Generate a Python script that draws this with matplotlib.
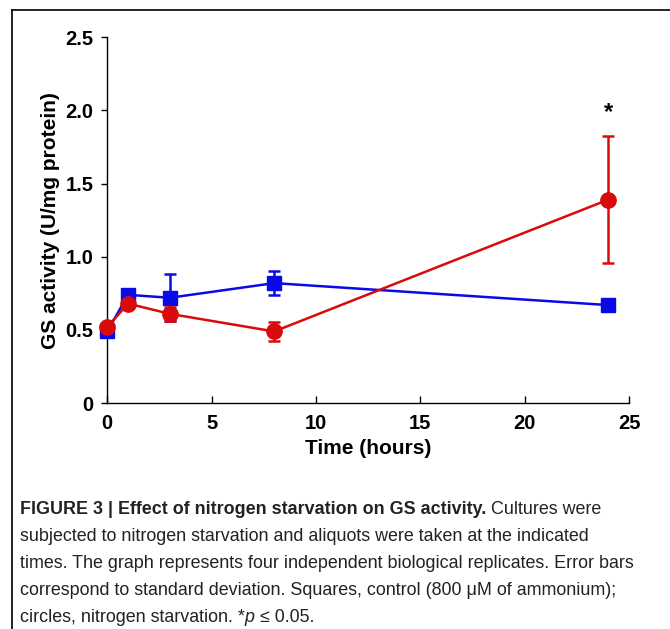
import matplotlib
matplotlib.use("Agg")
import matplotlib.pyplot as plt
from matplotlib.lines import Line2D

plt.rcParams["font.family"] = ["Liberation Sans", "DejaVu Sans"]

# 时间点 (h)
time_h = [0, 1, 3, 8, 24]

# 对照 (方块) 与 氮饥饿 (圆点) 的 GS 活性及标准差
control_mean = [0.49, 0.74, 0.72, 0.82, 0.67]
control_sd = [0.03, 0.03, 0.16, 0.08, 0.04]
starv_mean = [0.52, 0.68, 0.61, 0.49, 1.39]
starv_sd = [0.03, 0.02, 0.05, 0.065, 0.435]

sig_time = 24
sig_mark = "*"

x_ticks = [0, 5, 10, 15, 20, 25]
y_ticks = [0, 0.5, 1.0, 1.5, 2.0, 2.5]
y_ticklabels = ["0", "0.5", "1.0", "1.5", "2.0", "2.5"]

blue = "#0a0ae6"
red = "#d90a0a"

fig = plt.figure(figsize=(6.7, 6.29), dpi=100)
ax = fig.add_axes([0.16, 0.359, 0.779, 0.582])

ax.errorbar(time_h, control_mean, yerr=control_sd, color=blue, marker="s",
            markersize=10.5, linewidth=1.8, elinewidth=1.8, capsize=4,
            capthick=1.8, clip_on=False, zorder=3)
ax.errorbar(time_h, starv_mean, yerr=starv_sd, color=red, marker="o",
            markersize=11, linewidth=1.8, elinewidth=1.8, capsize=4,
            capthick=1.8, clip_on=False, zorder=4)

# 显著性标记
top = starv_mean[time_h.index(sig_time)] + starv_sd[time_h.index(sig_time)]
ax.text(sig_time, top + 0.08, sig_mark, ha="center", va="bottom",
        fontsize=17, fontweight="bold")

ax.set_xlim(0, 25)
ax.set_ylim(0, 2.5)
ax.set_xticks(x_ticks)
ax.set_yticks(y_ticks)
ax.set_yticklabels(y_ticklabels)
ax.spines["top"].set_visible(False)
ax.spines["right"].set_visible(False)
for s in ["left", "bottom"]:
    ax.spines[s].set_linewidth(1.0)
ax.tick_params(axis="x", direction="in", length=5, width=1.0, pad=8,
               labelsize=14.5)
ax.tick_params(axis="y", direction="out", length=4, width=1.0, pad=6,
               labelsize=14.5)
for lab in ax.get_xticklabels() + ax.get_yticklabels():
    lab.set_fontweight("bold")

ax.set_xlabel("Time (hours)", fontsize=15, fontweight="bold", labelpad=4)
ax.set_ylabel("GS activity (U/mg protein)", fontsize=15, fontweight="bold",
              labelpad=4)

# 外框 (左边和上边)
fig.add_artist(Line2D([0.018, 0.018], [0, 0.984], color="black", lw=1.2))
fig.add_artist(Line2D([0.018, 1.0], [0.984, 0.984], color="black", lw=1.2))

# 图注
lines = [
    [("FIGURE 3 | Effect of nitrogen starvation on GS activity.", "bold", "normal"),
     (" Cultures were", "normal", "normal")],
    [("subjected to nitrogen starvation and aliquots were taken at the indicated", "normal", "normal")],
    [("times. The graph represents four independent biological replicates. Error bars", "normal", "normal")],
    [("correspond to standard deviation. Squares, control (800 \u03bcM of ammonium);", "normal", "normal")],
    [("circles, nitrogen starvation. *", "normal", "normal"), ("p", "normal", "italic"),
     (" \u2264 0.05.", "normal", "normal")],
]
baselines = [514, 541, 568, 595, 622]
fig.canvas.draw()
renderer = fig.canvas.get_renderer()
for runs, yb in zip(lines, baselines):
    x = 20
    for txt, w, st in runs:
        t = fig.text(x / 670, 1 - yb / 629, txt, fontsize=12.9, fontweight=w,
                     fontstyle=st, ha="left", va="baseline", color="#222222")
        bb = t.get_window_extent(renderer)
        x = bb.x1

fig.savefig("out.png", dpi=100)
